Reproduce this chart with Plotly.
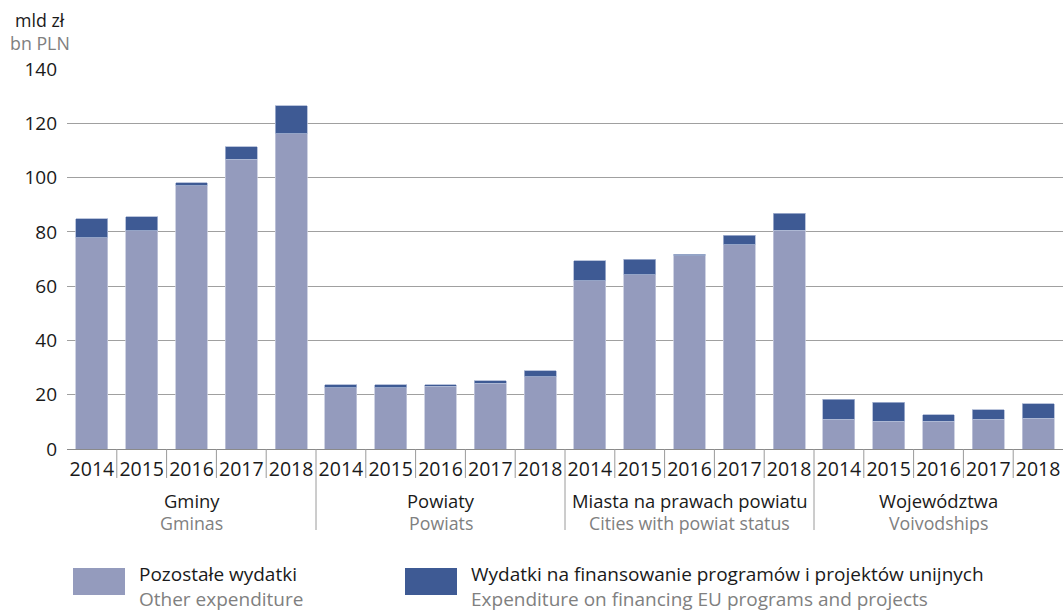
import plotly.graph_objects as go

groups_pl = ["Gminy", "Powiaty", "Miasta na prawach powiatu", "Województwa"]
groups_en = ["Gminas", "Powiats", "Cities with powiat status", "Voivodships"]
years = ["2014", "2015", "2016", "2017", "2018"]

other = [77.9, 80.4, 97.0, 106.8, 116.1,
         22.5, 22.5, 23.2, 24.2, 26.6,
         61.9, 64.2, 71.2, 75.3, 80.6,
         11.0, 10.3, 10.3, 11.0, 11.4]
eu = [7.0, 5.1, 1.1, 4.6, 10.4,
      1.1, 1.1, 0.4, 1.0, 2.3,
      7.5, 5.8, 0.5, 3.4, 6.2,
      7.3, 6.9, 2.3, 3.4, 5.3]

y_ticks = [0, 20, 40, 60, 80, 100, 120, 140]

legend_pl = ["Pozostałe wydatki", "Wydatki na finansowanie programów i projektów unijnych"]
legend_en = ["Other expenditure", "Expenditure on financing EU programs and projects"]

C_OTHER = "#949bbd"
C_EU = "#3e5a94"
BLACK = "#1a1a1a"
GRAY = "#808080"
FONT = "Open Sans"
TS = 17.8
GS = 18.4
LS = 19.0

n = len(other)
xs = list(range(n))
ticktext = [years[i % len(years)] for i in range(n)]

fig = go.Figure()
fig.add_trace(go.Bar(x=xs, y=other, marker=dict(color=C_OTHER, line=dict(color="#c3c8dc", width=0.8)),
                     name=legend_pl[0], showlegend=False, width=0.64))
fig.add_trace(go.Bar(x=xs, y=eu, marker=dict(color=C_EU, line=dict(color="#aab6d3", width=0.8)),
                     name=legend_pl[1], showlegend=False, width=0.64))

W, H = 1063, 611
L, R, T, B = 67, 0, 69, 162
pw, ph = W - L - R, H - T - B

def px(xp):
    return (xp - L) / pw

def py(yp):
    return (H - B - yp) / ph

shapes = []
annotations = []
ng = len(years)
for i in range(1, n):
    xv = i - 0.5
    is_group = (i % ng == 0)
    shapes.append(dict(type="line", xref="x", yref="paper", x0=xv, x1=xv,
                       y0=0, y1=py(530 if is_group else 478),
                       line=dict(color="#9a9a9a", width=1)))
for g in range(len(groups_pl)):
    xc = g * ng + (ng - 1) / 2
    annotations.append(dict(x=xc, xref="x", y=py(500), yref="paper", text=groups_pl[g],
                            showarrow=False, font=dict(family=FONT, size=GS, color=BLACK),
                            xanchor="center", yanchor="middle"))
    annotations.append(dict(x=xc, xref="x", y=py(523), yref="paper", text=groups_en[g],
                            showarrow=False, font=dict(family=FONT, size=TS, color=GRAY),
                            xanchor="center", yanchor="middle"))

annotations.append(dict(x=px(40), y=py(20), xref="paper", yref="paper", text="mld zł",
                        showarrow=False, font=dict(family=FONT, size=TS, color=BLACK),
                        xanchor="center", yanchor="middle"))
annotations.append(dict(x=px(40), y=py(43), xref="paper", yref="paper", text="bn PLN",
                        showarrow=False, font=dict(family=FONT, size=TS, color=GRAY),
                        xanchor="center", yanchor="middle"))

leg = [(73, 125, 138, C_OTHER), (405, 457, 470, C_EU)]
for k, (x0, x1, tx, col) in enumerate(leg):
    shapes.append(dict(type="rect", xref="paper", yref="paper", x0=px(x0), x1=px(x1),
                       y0=py(595), y1=py(568), fillcolor=col, line=dict(width=0)))
    annotations.append(dict(x=px(tx), y=py(586), xref="paper", yref="paper",
                            text=legend_pl[k] + "<br><span style='color:" + GRAY + "'>" + legend_en[k] + "</span>",
                            showarrow=False, align="left", borderpad=0,
                            font=dict(family=FONT, size=LS, color=BLACK),
                            xanchor="left", yanchor="middle"))

fig.update_layout(
    barmode="stack",
    width=W, height=H,
    margin=dict(l=L, r=R, t=T, b=B, autoexpand=False),
    paper_bgcolor="white", plot_bgcolor="white",
    shapes=shapes, annotations=annotations,
    font=dict(family=FONT, size=TS, color=BLACK),
    xaxis=dict(range=[-0.5, n - 0.5], tickmode="array", tickvals=xs, ticktext=ticktext,
               showgrid=False, zeroline=False, showline=False, ticks="",
               ticklabelstandoff=6,
               tickfont=dict(family=FONT, size=19.5, color=BLACK), fixedrange=True),
    yaxis=dict(range=[0, 140], tickmode="array", tickvals=y_ticks,
               showgrid=True, gridcolor="#a0a0a0", gridwidth=1,
               zeroline=True, zerolinecolor="#8a8a8a", zerolinewidth=1,
               showline=False, ticks="", ticklabelstandoff=9,
               tickfont=dict(family=FONT, size=19, color=BLACK), fixedrange=True),
    showlegend=False,
)

fig.write_html("out.html", config={"displayModeBar": False},
               post_script="document.body.style.margin='0';document.body.style.overflow='hidden';")
